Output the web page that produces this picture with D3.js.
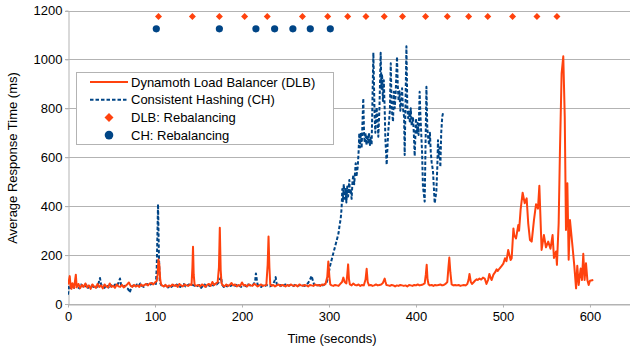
<!DOCTYPE html>
<html>
<head>
<meta charset="utf-8">
<script src="https://cdn.jsdelivr.net/npm/d3@7"></script>
<style>
  body { margin: 0; background: #fff; }
  text { font-family: "Liberation Sans", Arial, sans-serif; }
</style>
</head>
<body>
<div id="chart"></div>
<script>
// time (s), response time (ms)
var dlbTime = [0,1,2,3,4,5,7,9,10,12,14,16,18,20,22,24,26,28,30,32,34,36,38,40,42,44,46,48,50,52,54,56,58,60,62,64,66,68,70,72,74,76,78,80,82,84,86,88,90,92,94,96,98,100,102,103,104,105,106,107,108,110,112,114,116,118,120,122,124,126,128,130,132,134,136,138,140,142,143,143.7,144.5,145.5,147,150,152,154,156,158,160,162,164,166,168,170,172,173.5,174.5,175.5,176.5,178,180,182,184,186,188,190,192,194,196,198,200,202,204,206,208,210,212,214,216,218,220,222,224,226,228,229.5,230.5,231.5,232.5,234,236,238,240,242,244,246,248,250,252,254,256,258,260,262,264,266,268,270,272,274,276,278,280,282,284,286,288,290,292,294,296,298,299.2,300.5,301.5,303,305,307,309,311,313,315,316.5,318,320,321,322,323,324,326,328,330,332,334,336,338,340,342,343.3,344.5,346,348,350,352,354,356,358,360,362,364,365,366,368,370,372,374,376,378,380,382,384,386,388,390,392,394,396,398,400,402,404,406,408,410,411.3,412.3,413.3,414.5,416,418,420,422,424,426,428,430,432,434,436,437.3,438.3,439.5,441,443,445,447,449,451,453,455,457,459,460.5,461.5,463,464.5,466,468,469.7,471,473,475,477,479,481,483,484.3,486,487,489,491,492.7,494,496,498.5,500.4,502.3,504,506,508.8,510,512,513,515,517.6,518.5,520.3,522.6,525,527.2,529,531,533,535.6,538,540.2,541.8,544.4,547,549.4,552,554.6,557,558.6,561,562,564,565.5,567.4,569.3,571,572.4,574,575.5,577,580,582,584,585.4,587,589.3,590.8,592.3,593.8,595.4,597,598.5,600,603.8]
var dlbValue = [80,95,114,70,62,85,66,120,68,82,65,78,70,84,68,76,62,80,72,66,82,70,76,64,80,72,68,84,70,74,66,80,72,70,78,68,74,80,88,74,70,78,72,76,70,80,74,78,82,76,84,86,80,88,94,120,182,160,100,80,76,72,78,70,76,72,80,74,78,70,82,76,72,80,76,74,80,78,150,234,120,80,74,78,72,80,76,70,78,82,74,90,78,84,88,150,312,140,85,76,72,80,74,78,86,76,80,72,78,74,88,76,78,72,80,76,74,82,78,72,76,80,74,76,78,160,276,150,80,74,78,72,76,80,74,78,76,72,78,74,80,76,74,78,72,80,76,74,78,76,72,78,76,74,80,76,78,74,80,78,82,110,174,110,80,76,74,78,76,74,82,90,108,90,84,120,162,100,80,76,84,78,76,80,74,78,76,100,144,90,76,78,74,76,80,76,78,80,86,104,90,78,76,74,78,76,72,76,74,78,76,74,76,72,78,76,74,78,76,80,76,78,80,84,120,160,100,80,76,78,74,78,76,78,80,76,78,82,90,150,190,130,80,76,78,76,78,74,76,78,76,82,100,123,90,82,88,96,101,98,104,100,108,104,82,100,123,105,98,120,130,142,135,145,156,165,187,175,221,180,187,309,280,268,323,300,387,455,412,432,330,262,255,343,408,390,483,221,282,232,255,226,282,188,215,160,330,630,943,1013,766,303,494,181,343,232,155,64,156,78,145,98,205,98,167,98,78,95,98]

var chTime = [0,1,3,5,7,9,11,13,15,17,19,21,23,25,27,29,31,33,35,36.8,38,40,42,44,46,48,50,52,54,56,58,59.8,61,63,65,67,69,71,73,75,77,79,81,83,85,87,89,91,93,95,97,99,101,102,103.5,104.5,105.5,107,109,111,113,115,117,119,121,123,125,127,129,131,133,135,137,139,141,143,145,147,149,151,153,155,157,159,161,163,165,167,169,171,173,174.5,176,177,179,181,183,185,187,189,191,193,195,197,199,201,203,205,207,209,211,213,215,216,217,218,220,222,224,226,228,230,232,234,236,237.5,238.7,240,242,244,246,248,250,252,254,256,258,260,262,264,266,268,270,272,274,276,278,280,281.5,283,285,287,289,291,293,295,297,299,301,303,305,307,309,311,312,313.5,314.5,315.3,316,317,318,319,320,321,322,323.4,324,325,326,327,328,329,330.7,331.5,333,334,334.8,335.6,336.5,337.5,338.3,339.4,340.3,341,342,343,344,345,346,347,348,349,351,352.5,353.3,354.8,356,356.7,358,359.4,360.3,361,362,363,364,364.8,366.3,368,369.3,370,371,372,373.6,374.5,375.5,376.5,378.2,379,380,381,382,384,385,386.3,387,389,390,391,392,393,394,395,396.6,397.5,398.5,400,401,402,403,404.2,405,406,407,408,409,410,412,413,414,415,416,417,418,419.5,420.5,421.5,423.4,424.5,425.3,426,427.2,428,429,430.2,431.4]
var chValue = [38,70,60,78,66,82,70,64,80,72,68,78,66,74,80,70,76,68,84,106,80,72,66,78,70,64,76,68,80,74,86,104,78,70,74,66,62,47,70,76,68,80,72,84,74,70,78,82,76,80,84,86,82,150,408,200,90,78,70,74,80,68,74,70,78,72,80,74,70,76,82,72,76,80,74,78,76,70,74,78,66,74,80,72,78,74,82,76,84,80,88,100,110,80,70,76,72,80,74,78,72,76,80,74,70,78,76,72,80,76,74,80,90,125,100,78,74,70,76,72,78,74,72,76,82,96,110,80,74,78,70,76,80,74,76,78,72,76,80,74,76,78,76,74,80,86,98,115,95,78,74,76,78,74,76,80,85,110,153,180,208,235,262,290,317,350,392,470,420,490,430,470,415,480,440,507,450,470,430,500,528,490,575,520,560,620,698,640,700,637,720,841,700,660,700,650,691,660,700,650,680,650,1028,760,700,804,740,684,800,1027,880,940,830,915,800,677,569,700,760,790,984,800,745,868,800,850,1011,900,830,870,790,882,800,766,609,1054,810,760,790,740,800,730,760,700,605,760,700,740,691,868,780,700,620,480,450,419,888,720,680,650,700,620,580,545,480,412,460,560,670,600,640,560,700,766,786]

var dlbRebalance = [104,143,174,203,229,269.5,298.5,321.5,342.5,363.5,384.5,411,436,460.5,482.5,511,539,562]
var chRebalance = [101.5,174,216,237.5,258.5,278.5,301.5]
var dlbMarkerLevel = 1175
var chMarkerLevel = 1125

var xTicks = [0,100,200,300,400,500,600]
var yTicks = [0,200,400,600,800,1000,1200]

var dlbColor = "#ff420e", chColor = "#004586", gridColor = "#b3b3b3"

var W = 630, H = 347
var margin = {left: 68, right: 0, top: 10.5, bottom: 43}
var svg = d3.select("#chart").append("svg").attr("width", W).attr("height", H)

var x = d3.scaleLinear().domain([0, 646]).range([margin.left, W - margin.right])
var y = d3.scaleLinear().domain([0, 1200]).range([H - margin.bottom, margin.top])

// grid
svg.append("g").selectAll("line").data(yTicks).enter().append("line")
    .attr("x1", x(0) - 3).attr("x2", W)
    .attr("y1", function(d){return Math.round(y(d)) + 0.5})
    .attr("y2", function(d){return Math.round(y(d)) + 0.5})
    .attr("stroke", gridColor).attr("stroke-width", 1)

var yAxis = svg.append("g").attr("transform", "translate(" + (Math.round(x(0)) + 0.5) + ",0)")
    .call(d3.axisLeft(y).tickValues(yTicks).tickFormat(d3.format("d")).tickSize(3).tickSizeOuter(0).tickPadding(3))
yAxis.select(".domain").attr("stroke", gridColor)
yAxis.selectAll(".tick line").attr("stroke", gridColor)
yAxis.selectAll("text").attr("font-size", 13).attr("fill", "#000")
    .attr("font-family", "Liberation Sans, Arial, sans-serif")

var xAxis = svg.append("g").attr("transform", "translate(0," + (Math.round(y(0)) + 0.5) + ")")
    .call(d3.axisBottom(x).tickValues(xTicks).tickFormat(d3.format("d")).tickSize(3).tickSizeOuter(0).tickPadding(4))
xAxis.select(".domain").attr("stroke", gridColor)
xAxis.selectAll(".tick line").attr("stroke", gridColor)
xAxis.selectAll("text").attr("font-size", 13).attr("fill", "#000")
    .attr("font-family", "Liberation Sans, Arial, sans-serif")

svg.append("text").text("Time (seconds)")
    .attr("x", 332).attr("y", 343).attr("text-anchor", "middle")
    .attr("font-size", 13).attr("fill", "#000")
svg.append("text").text("Average Response Time (ms)")
    .attr("transform", "translate(17,158) rotate(-90)").attr("text-anchor", "middle")
    .attr("font-size", 13).attr("fill", "#000")

svg.append("clipPath").attr("id", "plot").append("rect")
    .attr("x", x(0)).attr("y", 0).attr("width", W - x(0)).attr("height", y(0))

var line = d3.line()
    .x(function(d){return x(d[0])})
    .y(function(d){return y(d[1])})

var chData = d3.zip(chTime, chValue)
var dlbData = d3.zip(dlbTime, dlbValue)

svg.append("path").datum(chData).attr("d", line)
    .attr("clip-path", "url(#plot)")
    .attr("fill", "none").attr("stroke", chColor).attr("stroke-width", 2)
    .attr("stroke-dasharray", "3.5,2").attr("stroke-linejoin", "round")
svg.append("path").datum(dlbData).attr("d", line)
    .attr("clip-path", "url(#plot)")
    .attr("fill", "none").attr("stroke", dlbColor).attr("stroke-width", 2)
    .attr("stroke-linejoin", "round")

function diamond(s){ return "M0," + (-s) + "L" + s + ",0L0," + s + "L" + (-s) + ",0Z" }

svg.append("g").selectAll("path").data(dlbRebalance).enter().append("path")
    .attr("d", diamond(3.5))
    .attr("transform", function(d){return "translate(" + x(d) + "," + y(dlbMarkerLevel) + ")"})
    .attr("fill", dlbColor)
svg.append("g").selectAll("circle").data(chRebalance).enter().append("circle")
    .attr("cx", function(d){return x(d)}).attr("cy", y(chMarkerLevel)).attr("r", 3.6)
    .attr("fill", chColor)

// legend
var legend = svg.append("g")
legend.append("rect").attr("x", 76.5).attr("y", 72.5).attr("width", 257).attr("height", 72)
    .attr("fill", "#fff").attr("stroke", gridColor)
var entries = [
    {label: "Dynamoth Load Balancer (DLB)", kind: "line"},
    {label: "Consistent Hashing (CH)", kind: "dash"},
    {label: "DLB: Rebalancing", kind: "diamond"},
    {label: "CH: Rebalancing", kind: "circle"}
]
entries.forEach(function(e, i){
    var cy = 82 + i * 17.7
    if (e.kind == "line" || e.kind == "dash") {
        legend.append("line").attr("x1", 90).attr("x2", 128).attr("y1", cy).attr("y2", cy)
            .attr("stroke", e.kind == "line" ? dlbColor : chColor).attr("stroke-width", 2)
            .attr("stroke-dasharray", e.kind == "dash" ? "3.5,2" : null)
    } else if (e.kind == "diamond") {
        legend.append("path").attr("d", diamond(4.5)).attr("transform", "translate(109," + cy + ")")
            .attr("fill", dlbColor)
    } else {
        legend.append("circle").attr("cx", 109).attr("cy", cy).attr("r", 4.3).attr("fill", chColor)
    }
    legend.append("text").text(e.label).attr("x", 131).attr("y", cy + 4.5)
        .attr("font-size", 13).attr("fill", "#000")
})
</script>
</body>
</html>
